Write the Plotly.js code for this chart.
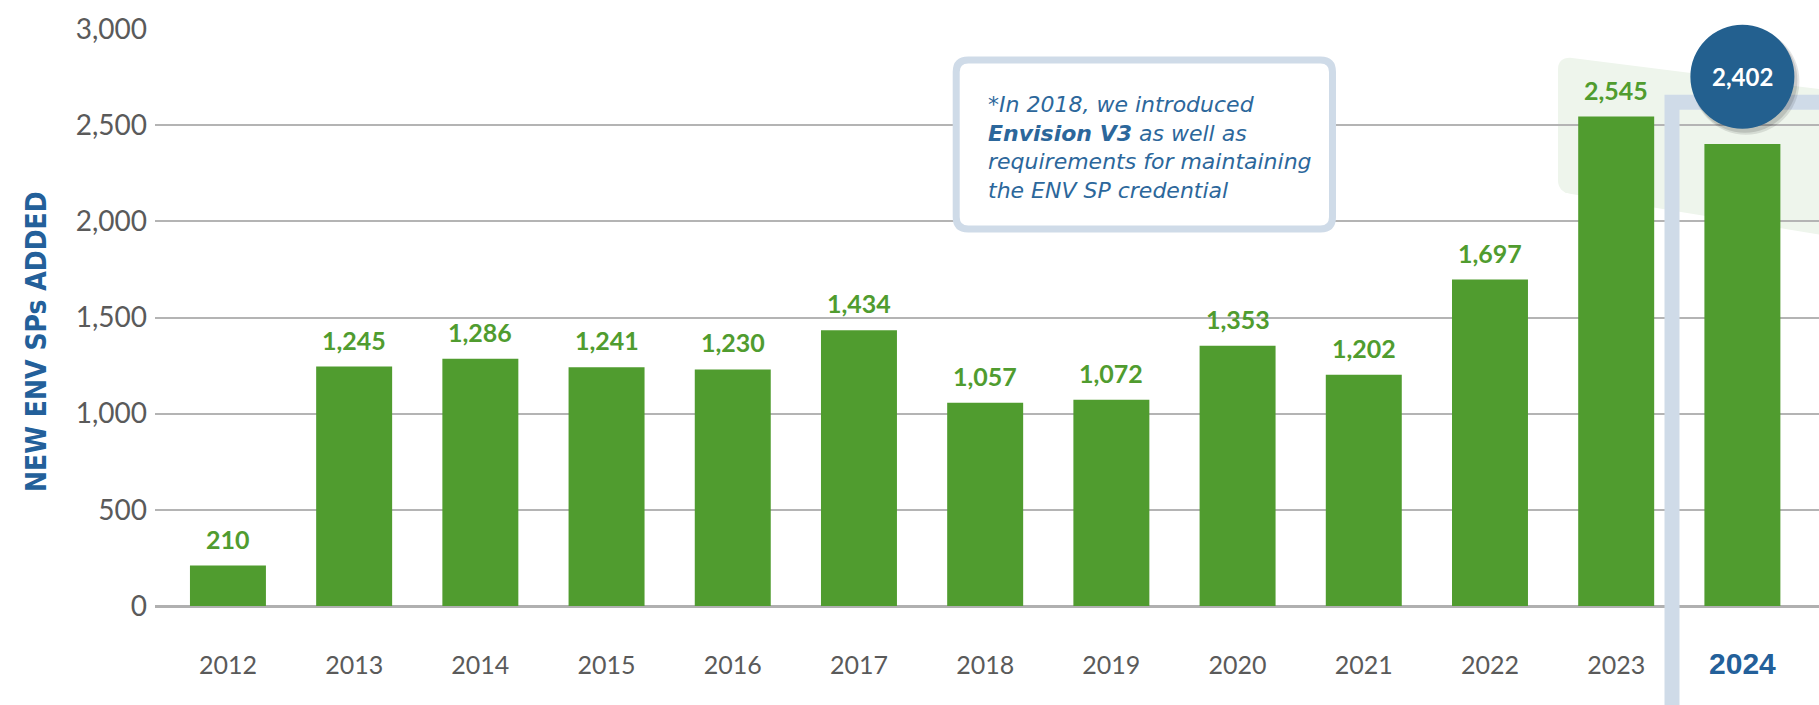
<!DOCTYPE html>
<html>
<head>
<meta charset="utf-8">
<script src="https://cdn.plot.ly/plotly-3.0.1.min.js"></script>
<style>
  html, body { margin: 0; padding: 0; background: #ffffff; }
  #chart { width: 1819px; height: 705px; }
</style>
</head>
<body>
<div id="chart"></div>
<script>
// ---- data ----
const years = ['2012','2013','2014','2015','2016','2017','2018','2019','2020','2021','2022','2023','2024'];
const newEnvSPs = [210, 1245, 1286, 1241, 1230, 1434, 1057, 1072, 1353, 1202, 1697, 2545, 2402];
const yTickVals = [0, 500, 1000, 1500, 2000, 2500, 3000];
const yAxisTitle = 'NEW ENV SPs ADDED';
const noteLines = ['*In 2018, we introduced', '<b>Envision V3</b> as well as', 'requirements for maintaining', 'the ENV SP credential'];

// ---- geometry helpers (pixel -> paper) ----
const W = 1819, H = 705;
const L = 155, R = 0, T = 29.3, B = 99.3;
const PW = W - L - R, PH = H - T - B;
const px = x => (x - L) / PW;
const py = y => (H - B - y) / PH;

const last = years.length - 1;
const fmt = v => v.toLocaleString('en-US');
const green = '#509c2f';
const blue = '#23609a';
const frame = '#cfdbe8';

function roundedRectPath(x0, y0, x1, y1, r) {
  const P = (x, y) => px(x) + ',' + py(y);
  return 'M' + P(x0 + r, y0) + ' L' + P(x1 - r, y0) + ' Q' + P(x1, y0) + ' ' + P(x1, y0 + r) +
    ' L' + P(x1, y1 - r) + ' Q' + P(x1, y1) + ' ' + P(x1 - r, y1) +
    ' L' + P(x0 + r, y1) + ' Q' + P(x0, y1) + ' ' + P(x0, y1 - r) +
    ' L' + P(x0, y0 + r) + ' Q' + P(x0, y0) + ' ' + P(x0 + r, y0) + ' Z';
}
function bandPath() {
  const P = (x, y) => px(x) + ',' + py(y);
  const r = 12;
  return 'M' + P(1558 + r, 58) + ' L' + P(1840, 92) + ' L' + P(1840, 238) +
    ' L' + P(1558 + r, 194) + ' Q' + P(1558, 192) + ' ' + P(1558, 180) +
    ' L' + P(1558, 70) + ' Q' + P(1558, 58) + ' ' + P(1558 + r, 58) + ' Z';
}

const trace = {
  type: 'bar',
  x: years,
  y: newEnvSPs,
  marker: { color: green },
  hoverinfo: 'x+y',
  cliponaxis: false
};

const annotations = [];
newEnvSPs.forEach((v, i) => {
  if (i === last) return;
  annotations.push({
    x: i, y: v, xref: 'x', yref: 'y',
    text: '<b>' + fmt(v) + '</b>', showarrow: false,
    xanchor: 'center', yanchor: 'middle', yshift: 27,
    font: { family: 'Lato, sans-serif', size: 25, color: green }
  });
});
// highlighted last value inside the circle
annotations.push({
  x: last, xref: 'x', y: py(77), yref: 'paper',
  text: '<b>' + fmt(newEnvSPs[last]) + '</b>', showarrow: false,
  xanchor: 'center', yanchor: 'middle',
  font: { family: 'Lato, sans-serif', size: 24, color: '#ffffff' }
});
// y axis title
annotations.push({
  x: px(36), xref: 'paper', y: py(342), yref: 'paper',
  text: '<b>' + yAxisTitle + '</b>', showarrow: false, textangle: -90,
  xanchor: 'center', yanchor: 'middle',
  font: { family: 'Liberation Sans Narrow, DejaVu Sans Condensed, sans-serif', size: 28, color: blue }
});
// note
annotations.push({
  x: px(986), xref: 'paper', y: py(148), yref: 'paper',
  text: '<i>' + noteLines.join('<br>') + '</i>', showarrow: false,
  xanchor: 'left', yanchor: 'middle', align: 'left',
  font: { family: 'DejaVu Sans, sans-serif', size: 22, color: '#2c679b' }
});

const shapes = [
  // pale green band behind 2023/2024
  { type: 'path', xref: 'paper', yref: 'paper', path: bandPath(),
    fillcolor: '#eef5ec', line: { width: 0 }, layer: 'below' },
  // note box
  { type: 'path', xref: 'paper', yref: 'paper', path: roundedRectPath(956.2, 60.2, 1332.5, 229.2, 12),
    fillcolor: '#ffffff', line: { color: frame, width: 7 }, layer: 'above' },
  // highlight frame around 2024
  { type: 'rect', xref: 'paper', yref: 'paper',
    x0: px(1672), x1: px(1840), y0: py(102.5), y1: py(712),
    fillcolor: 'rgba(0,0,0,0)', line: { color: frame, width: 15 }, layer: 'above' },
  // circle shadow
  { type: 'circle', xref: 'x', yref: 'paper', xsizemode: 'pixel', ysizemode: 'pixel',
    xanchor: last, yanchor: py(77), x0: -50, x1: 57, y0: -58, y1: 49,
    fillcolor: 'rgba(0,0,0,0.10)', line: { width: 0 }, layer: 'above' },
  { type: 'circle', xref: 'x', yref: 'paper', xsizemode: 'pixel', ysizemode: 'pixel',
    xanchor: last, yanchor: py(77), x0: -50, x1: 55, y0: -56, y1: 49,
    fillcolor: 'rgba(0,0,0,0.12)', line: { width: 0 }, layer: 'above' },
  // circle
  { type: 'circle', xref: 'x', yref: 'paper', xsizemode: 'pixel', ysizemode: 'pixel',
    xanchor: last, yanchor: py(77), x0: -52, x1: 52, y0: -52, y1: 52,
    fillcolor: '#23608f', line: { width: 0 }, layer: 'above' }
];

const tickText = years.map((y, i) => i === last
  ? '<b><span style="color:' + blue + ';font-size:30px;font-family:Liberation Sans, Arial, sans-serif">' + y + '</span></b>'
  : y);

const layout = {
  width: W, height: H,
  margin: { l: L, r: R, t: T, b: B, pad: 0 },
  paper_bgcolor: '#ffffff', plot_bgcolor: 'rgba(0,0,0,0)',
  showlegend: false,
  bargap: 0.398,
  xaxis: {
    type: 'category',
    range: [-0.578, 12.607],
    tickvals: years, ticktext: tickText,
    showgrid: false, zeroline: false, showline: false, ticks: '',
    ticklabelstandoff: 42,
    tickfont: { family: 'Lato, sans-serif', size: 25, color: '#5a5a5a' }
  },
  yaxis: {
    range: [0, 3000],
    tickvals: yTickVals, tickformat: ',',
    showgrid: true, gridcolor: '#b4b4b4', gridwidth: 2,
    zeroline: true, zerolinecolor: '#b0b0b0', zerolinewidth: 3,
    showline: false, ticks: '',
    ticklabelstandoff: 7,
    tickfont: { family: 'Lato, sans-serif', size: 28, color: '#5a5a5a' }
  },
  annotations: annotations,
  shapes: shapes,
  font: { family: 'Lato, sans-serif' }
};

Plotly.newPlot('chart', [trace], layout, { displayModeBar: false, staticPlot: true });
</script>
</body>
</html>
